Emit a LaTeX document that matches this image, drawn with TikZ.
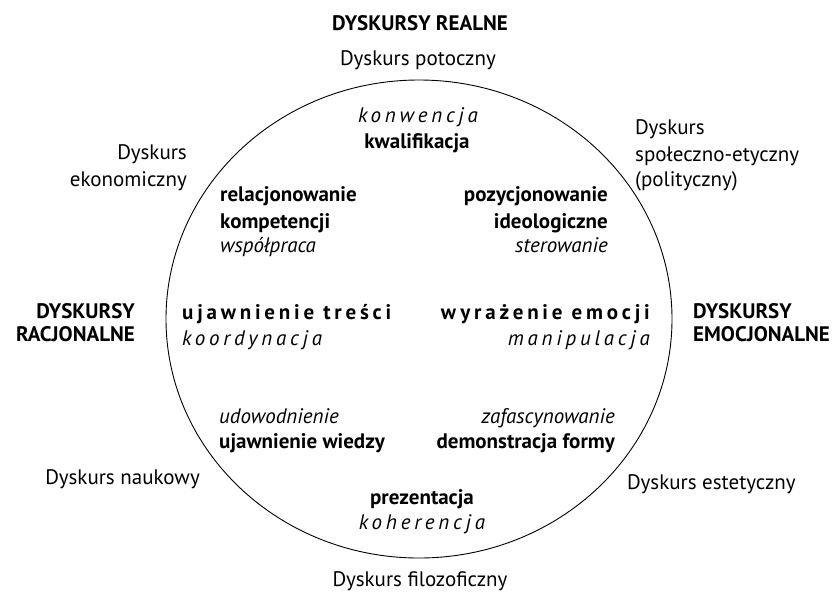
\documentclass[tikz,border=0pt]{standalone}
\usepackage{fontspec}
\setmainfont{PT Sans}
\begin{document}
\begin{tikzpicture}[x=1pt,y=-1pt,
  lbl/.style={inner sep=0pt,font=\fontsize{21}{25}\selectfont},
  bf/.style={lbl,font=\fontsize{21}{25}\selectfont\bfseries},
  it/.style={lbl,font=\fontsize{21}{25}\selectfont\itshape},
  sp/.style={lbl,font=\fontsize{21}{25}\selectfont\itshape\addfontfeature{LetterSpace=18}},
  bsp/.style={lbl,font=\fontsize{21}{25}\selectfont\bfseries\addfontfeature{LetterSpace=18}},
  ring/.style={draw,line width=0.9pt}]
\useasboundingbox (0,0) rectangle (834,595);
\draw[ring] (419,319) ellipse [x radius=253, y radius=239];
% outer labels
\node[bf,anchor=base] (realne) at (420,30) {DYSKURSY REALNE};
\node[lbl,anchor=base] (potoczny) at (418,65) {Dyskurs potoczny};
\node[lbl,anchor=base east] (ek1) at (187,159) {Dyskurs};
\node[lbl,anchor=base east] (ek2) at (187,186) {ekonomiczny};
\node[lbl,anchor=base west] (sp1) at (635,134) {Dyskurs};
\node[lbl,anchor=base west] (sp2) at (635,161) {społeczno-etyczny};
\node[lbl,anchor=base west] (sp3) at (635,186) {(polityczny)};
\node[bf,anchor=base east] (rac1) at (135,318) {DYSKURSY};
\node[bf,anchor=base east] (rac2) at (135,341) {RACJONALNE};
\node[bf,anchor=base west] (emo1) at (693,318) {DYSKURSY};
\node[bf,anchor=base west] (emo2) at (693,341) {EMOCJONALNE};
\node[lbl,anchor=base east] (naukowy) at (200,484) {Dyskurs naukowy};
\node[lbl,anchor=base west] (estetyczny) at (627,489) {Dyskurs estetyczny};
\node[lbl,anchor=base] (filozoficzny) at (420,586) {Dyskurs filozoficzny};
% inner labels
\node[sp,anchor=base] (konwencja) at (418,122) {konwencja};
\node[bf,anchor=base] (kwalifikacja) at (417,148) {kwalifikacja};
\node[bf,anchor=base west] (rel1) at (220,201) {relacjonowanie};
\node[bf,anchor=base west] (rel2) at (220,228) {kompetencji};
\node[it,anchor=base west] (wsp) at (220,252) {współpraca};
\node[bf,anchor=base east] (poz1) at (608,201) {pozycjonowanie};
\node[bf,anchor=base east] (poz2) at (608,228) {ideologiczne};
\node[it,anchor=base east] (ster) at (608,252) {sterowanie};
\node[bsp,anchor=base west] (tresci) at (182,319) {ujawnienie treści};
\node[sp,anchor=base west] (koord) at (182,345) {koordynacja};
\node[bsp,anchor=base east] (emocji) at (650,319) {wyrażenie emocji};
\node[sp,anchor=base east] (manip) at (650,345) {manipulacja};
\node[it,anchor=base west] (udow) at (219,423) {udowodnienie};
\node[bf,anchor=base west] (wiedzy) at (219,448) {ujawnienie wiedzy};
\node[it,anchor=base east] (zafasc) at (615,423) {zafascynowanie};
\node[bf,anchor=base east] (formy) at (615,448) {demonstracja formy};
\node[bf,anchor=base] (prez) at (422,504) {prezentacja};
\node[sp,anchor=base] (koher) at (422,529) {koherencja};
\end{tikzpicture}
\end{document}
